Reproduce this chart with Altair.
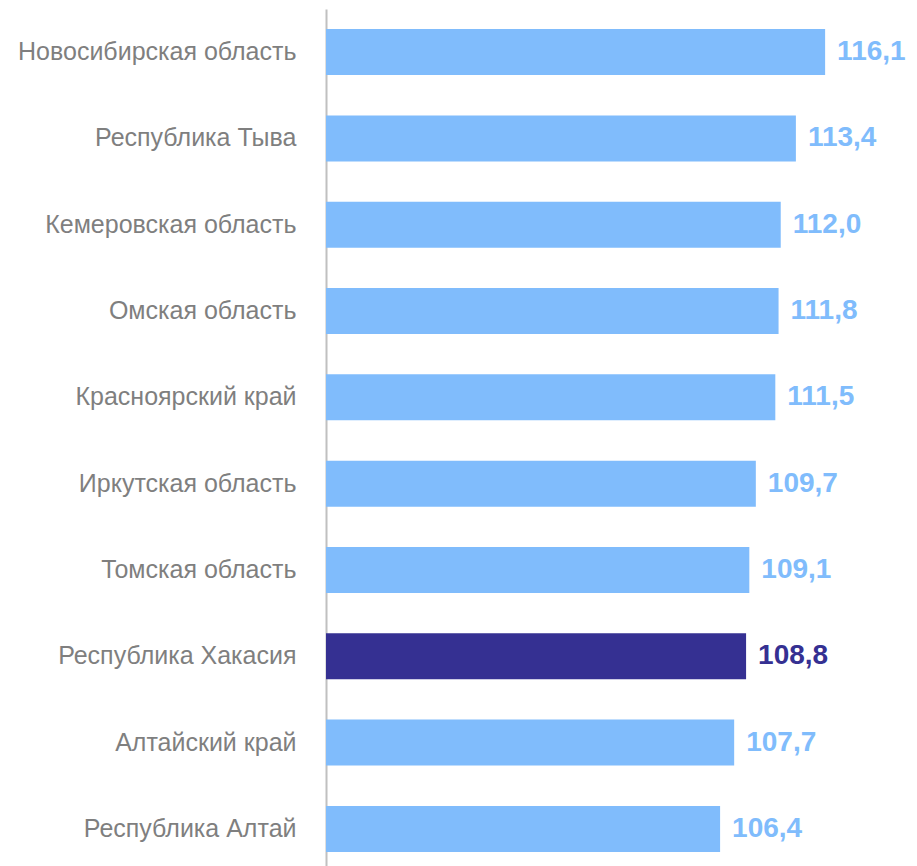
import altair as alt
import pandas as pd

regions = [
    "Новосибирская область",
    "Республика Тыва",
    "Кемеровская область",
    "Омская область",
    "Красноярский край",
    "Иркутская область",
    "Томская область",
    "Республика Хакасия",
    "Алтайский край",
    "Республика Алтай",
]
values = [116.1, 113.4, 112.0, 111.8, 111.5, 109.7, 109.1, 108.8, 107.7, 106.4]
highlight = [False, False, False, False, False, False, False, True, False, False]

df = pd.DataFrame({"region": regions, "value": values, "hl": highlight})
df["label"] = df["value"].map(lambda v: f"{v:.1f}".replace(".", ","))

LIGHT = "#80bcfc"
DARK = "#353092"
color_scale = alt.Scale(domain=[False, True], range=[LIGHT, DARK])

y = alt.Y("region:N", sort=regions, title=None,
          scale=alt.Scale(paddingInner=0.467, paddingOuter=0.233),
          axis=alt.Axis(ticks=False, labelFontSize=25, labelColor="#7f7f7f",
                        labelFont="Liberation Sans", labelPadding=30,
                        domainColor="#c0c0c0", domainWidth=2, labelLimit=400))
x = alt.X("value:Q", scale=alt.Scale(domain=[70, 122], zero=False, nice=False),
          axis=None)

bars = alt.Chart(df).mark_bar().encode(
    y=y, x=x, x2=alt.datum(70),
    color=alt.Color("hl:N", scale=color_scale, legend=None),
)
text = alt.Chart(df).mark_text(align="left", baseline="middle", dx=12,
                               font="Liberation Sans", fontWeight="bold",
                               fontSize=28).encode(
    y=alt.Y("region:N", sort=regions), x="value:Q", text="label:N",
    color=alt.Color("hl:N", scale=color_scale, legend=None),
)

chart = (bars + text).properties(
    width=563, height=863,
    autosize=alt.AutoSizeParams(type="none"),
    padding={"left": 318, "top": 1, "right": 20, "bottom": 0},
).configure_view(stroke=None)

chart.save("out.html", embed_options={"renderer": "svg", "actions": False})
